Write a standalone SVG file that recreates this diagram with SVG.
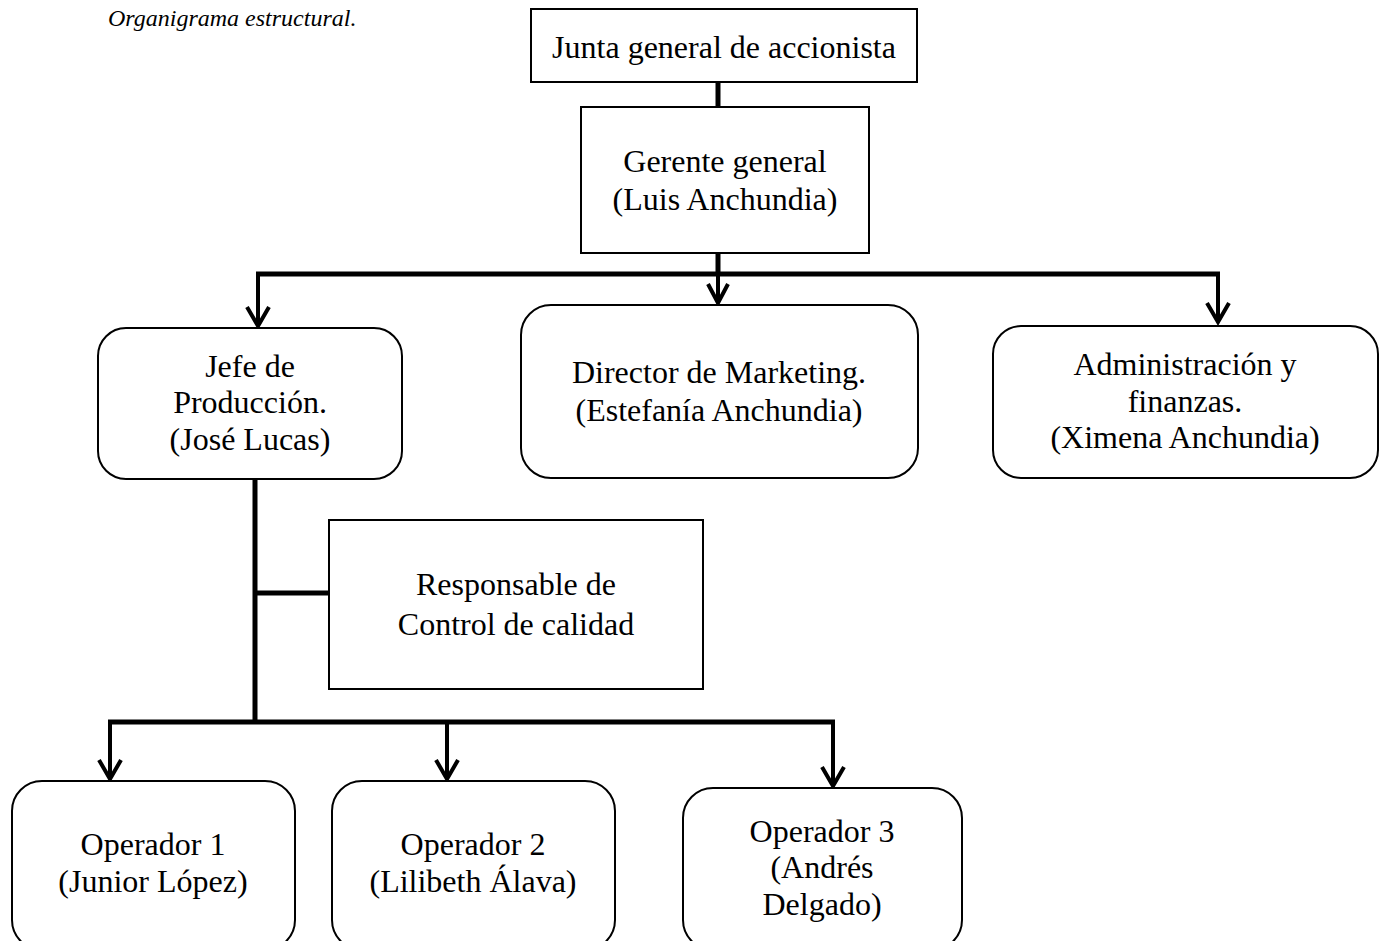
<svg xmlns="http://www.w3.org/2000/svg" width="1382" height="941" viewBox="0 0 1382 941">
<style>
.box{fill:#fff;stroke:#000;stroke-width:2}
.t{font-family:"Liberation Serif","Times New Roman",serif;font-size:32px;fill:#000;text-anchor:middle}
.cap{font-family:"Liberation Serif","Times New Roman",serif;font-size:24px;font-style:italic;fill:#000}
.bar{stroke:#000;stroke-width:5;fill:none}
.drop{stroke:#000;stroke-width:4;fill:none}
.head{stroke:#000;stroke-width:4;fill:none;stroke-linejoin:miter}
</style>
<rect width="1382" height="941" fill="#fff"/>
<text class="cap" x="108" y="26">Organigrama estructural.</text>
<g id="connectors">
<line class="bar" x1="718" y1="82" x2="718" y2="107"/>
<line class="bar" x1="718" y1="253" x2="718" y2="276"/>
<line class="bar" x1="256" y1="274" x2="1220" y2="274"/>
<line class="drop" x1="258" y1="272" x2="258" y2="326"/>
<path class="head" d="M247,307 L258,326 L269,307"/>
<line class="drop" x1="718" y1="274" x2="718" y2="303"/>
<path class="head" d="M708,284 L718,303 L728,284"/>
<line class="drop" x1="1218" y1="272" x2="1218" y2="322"/>
<path class="head" d="M1207,303 L1218,322 L1229,303"/>
<line class="bar" x1="255" y1="479" x2="255" y2="724"/>
<line class="bar" x1="253" y1="593" x2="330" y2="593"/>
<line class="bar" x1="108" y1="722" x2="835" y2="722"/>
<line class="drop" x1="110" y1="720" x2="110" y2="779"/>
<path class="head" d="M99,760 L110,779 L121,760"/>
<line class="drop" x1="447" y1="720" x2="447" y2="779"/>
<path class="head" d="M436,760 L447,779 L458,760"/>
<line class="drop" x1="833" y1="720" x2="833" y2="786"/>
<path class="head" d="M822,767 L833,786 L844,767"/>
</g>
<g id="junta">
<rect class="box" x="531" y="9" width="386" height="73"/>
<text class="t" x="724" y="58">Junta general de accionista</text>
</g>
<g id="gerente">
<rect class="box" x="581" y="107" width="288" height="146"/>
<text class="t" x="725" y="172">Gerente general</text>
<text class="t" x="725" y="210">(Luis Anchundia)</text>
</g>
<g id="jefe">
<rect class="box" x="98" y="328" width="304" height="151" rx="28"/>
<text class="t" x="250" y="377">Jefe de</text>
<text class="t" x="250" y="413">Producción.</text>
<text class="t" x="250" y="450">(José Lucas)</text>
</g>
<g id="director">
<rect class="box" x="521" y="305" width="397" height="173" rx="30"/>
<text class="t" x="719" y="383">Director de Marketing.</text>
<text class="t" x="719" y="421">(Estefanía Anchundia)</text>
</g>
<g id="admin">
<rect class="box" x="993" y="326" width="385" height="152" rx="28"/>
<text class="t" x="1185" y="375">Administración y</text>
<text class="t" x="1185" y="412">finanzas.</text>
<text class="t" x="1185" y="448">(Ximena Anchundia)</text>
</g>
<g id="responsable">
<rect class="box" x="329" y="520" width="374" height="169"/>
<text class="t" x="516" y="595">Responsable de</text>
<text class="t" x="516" y="635">Control de calidad</text>
</g>
<g id="operador1">
<rect class="box" x="12" y="781" width="283" height="169" rx="30"/>
<text class="t" x="153" y="855">Operador 1</text>
<text class="t" x="153" y="892">(Junior López)</text>
</g>
<g id="operador2">
<rect class="box" x="332" y="781" width="283" height="169" rx="30"/>
<text class="t" x="473" y="855">Operador 2</text>
<text class="t" x="473" y="892">(Lilibeth Álava)</text>
</g>
<g id="operador3">
<rect class="box" x="683" y="788" width="279" height="162" rx="30"/>
<text class="t" x="822" y="842">Operador 3</text>
<text class="t" x="822" y="878">(Andrés</text>
<text class="t" x="822" y="915">Delgado)</text>
</g>
</svg>
